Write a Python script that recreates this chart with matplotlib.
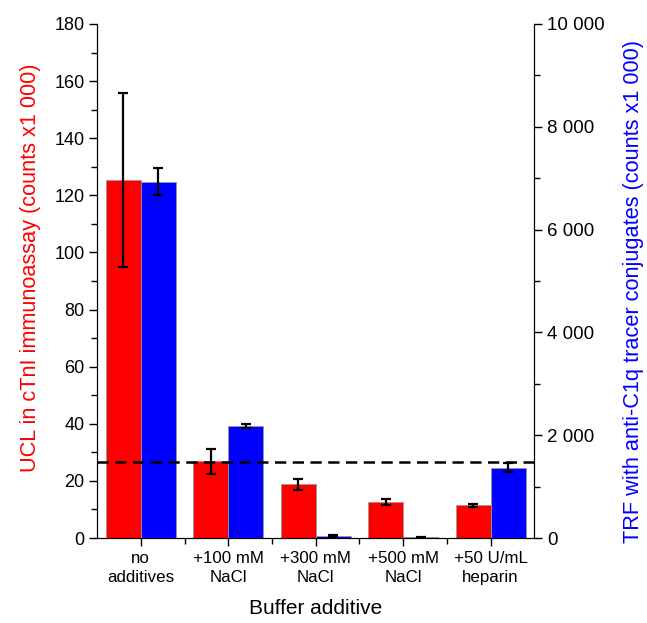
import numpy as np
import matplotlib
matplotlib.use('Agg')
import matplotlib.pyplot as plt
import matplotlib.transforms as mtransforms
from matplotlib.ticker import MultipleLocator, FuncFormatter

plt.rcParams['font.family'] = ['Liberation Sans', 'DejaVu Sans']

categories = ['no\nadditives', '+100 mM\nNaCl', '+300 mM\nNaCl', '+500 mM\nNaCl', '+50 U/mL\nheparin']
ucl = [125.5, 26.9, 18.8, 12.6, 11.4]
ucl_err = [30.5, 4.4, 2.0, 1.0, 0.5]
trf = [6930, 2180, 35, 18, 1365]
trf_err = [260, 40, 15, 8, 90]
cutoff = 26.7

fig, ax = plt.subplots(figsize=(6.47, 6.23), dpi=100)
fig.subplots_adjust(left=0.15, right=0.826, top=0.9615, bottom=0.1364)
ax2 = ax.twinx()

x = np.arange(len(categories))
w = 0.4
ekw = dict(elinewidth=1.6, capthick=1.6, capsize=3.5, ecolor='black')
ax.bar(x - w / 2, ucl, w, yerr=ucl_err, color='#ff0000', edgecolor='#999999', linewidth=0.6, error_kw=ekw, zorder=2)
ax2.bar(x + w / 2, trf, w, yerr=trf_err, color='#0000ff', edgecolor='#999999', linewidth=0.6, error_kw=ekw, zorder=2)

# dashed cutoff drawn on the top axes so it stays above the blue bars
trans = mtransforms.blended_transform_factory(ax2.transAxes, ax.transData)
ax2.plot([0, 1], [cutoff, cutoff], transform=trans, color='black',
         linestyle=(0, (4.5, 2.6)), linewidth=1.8, zorder=5)

ax.set_xlim(-0.5, 4.5)
ax.set_ylim(0, 180)
ax2.set_ylim(0, 10000)

ax.yaxis.set_major_locator(MultipleLocator(20))
ax.yaxis.set_minor_locator(MultipleLocator(10))
ax2.yaxis.set_major_locator(MultipleLocator(2000))
ax2.yaxis.set_minor_locator(MultipleLocator(1000))
ax2.yaxis.set_major_formatter(FuncFormatter(lambda v, p: '{:,.0f}'.format(v).replace(',', ' ')))

ax.set_xticks(x)
ax.set_xticklabels(categories, fontsize=12.2, linespacing=1.35)
ax.set_xticks(x[:-1] + 0.5, minor=True)

for a in (ax, ax2):
    a.spines['top'].set_visible(False)
    a.tick_params(which='major', direction='out', length=5.5, width=1, labelsize=13)
    a.tick_params(which='minor', direction='out', length=4, width=1)
ax.tick_params(axis='x', which='major', labelsize=12.2)
ax2.tick_params(axis='y', which='major', labelsize=13.5)

ax.set_ylabel('UCL in cTnI immunoassay (counts x1 000)', color='#ff0000', fontsize=15.7)
ax.yaxis.set_label_coords(-0.128, 0.525)
ax2.set_ylabel('TRF with anti-C1q tracer conjugates (counts x1 000)', color='#0000ff', fontsize=15.7)
ax2.yaxis.set_label_coords(1.203, 0.479)
ax.set_xlabel('Buffer additive', fontsize=15, labelpad=10)

plt.savefig('out.png')
